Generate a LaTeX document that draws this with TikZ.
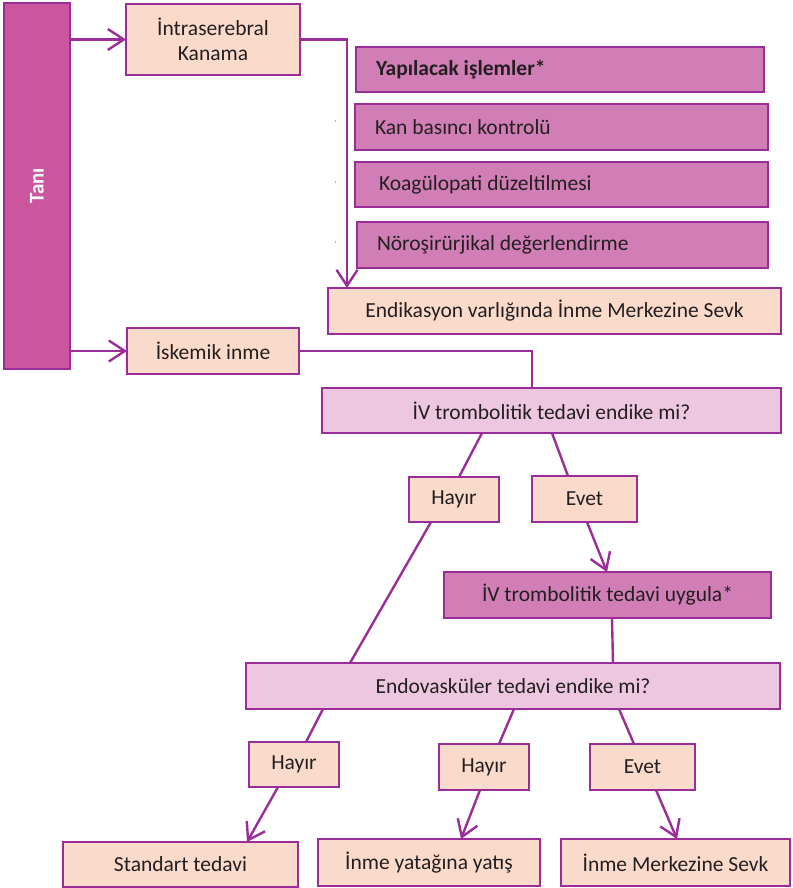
\documentclass[tikz,border=0pt]{standalone}
\usepackage{fontspec}
\setmainfont{Carlito}
\usetikzlibrary{arrows.meta,calc}
\definecolor{edgepurple}{HTML}{9B2D98}
\definecolor{taniFill}{HTML}{CC569E}
\definecolor{peachFill}{HTML}{FADACB}
\definecolor{orchidFill}{HTML}{D17DB6}
\definecolor{lightPink}{HTML}{EDC7DF}
\definecolor{inkText}{HTML}{231F20}
\newcommand{\flushtext}[2]{\makebox[#1pt][l]{#2}}
\begin{document}
\begin{tikzpicture}[x=1pt,y=-1pt,
  every node/.style={font=\fontsize{21.5}{25}\selectfont, text=inkText, outer sep=0pt, inner sep=0pt},
  flowbox/.style={draw=edgepurple, line width=2.6pt, anchor=north west, align=center},
  peach/.style={flowbox, fill=peachFill},
  orchid/.style={flowbox, fill=orchidFill},
  question/.style={flowbox, fill=lightPink},
  listbox/.style={orchid},
  link/.style={draw=edgepurple, line width=2.4pt},
  arr/.style={link, -{Straight Barb[length=16pt,width=21pt,line width=2.4pt]}}
]
\useasboundingbox (0,0) rectangle (792,888);

% diagnosis column
\node[flowbox, fill=taniFill, minimum width=66, minimum height=366] (tani) at (4,3) {};
\node[rotate=90, text=white, font=\fontsize{21}{24}\selectfont\bfseries] at (tani.center) {Tanı};

% haemorrhage branch
\node[peach, minimum width=174, minimum height=71] (intra) at (126,4) {İntraserebral\\Kanama};
\node[listbox, minimum width=408, minimum height=45] (yap) at (356,47) {\flushtext{368}{\bfseries Yapılacak işlemler*}};
\node[listbox, minimum width=413, minimum height=46] (kan) at (355,104) {\flushtext{373}{Kan basıncı kontrolü}};
\node[listbox, minimum width=413, minimum height=45] (koag) at (355,162) {\flushtext{373}{\hspace*{4pt}Koagülopati düzeltilmesi}};
\node[listbox, minimum width=411, minimum height=46] (noro) at (357,222) {\flushtext{371}{Nöroşirürjikal değerlendirme}};
\node[peach, minimum width=453, minimum height=46] (endik) at (328,288) {Endikasyon varlığında İnme Merkezine Sevk};

% small bullet remnants
\foreach \yy in {121,182,242}
  \fill[edgepurple!45] (334.5,\yy-0.8) rectangle (336,\yy+0.8);

% ischaemic branch
\node[peach, minimum width=172, minimum height=46] (isk) at (127,328) {İskemik inme};
\node[question, minimum width=459, minimum height=45] (ivq) at (322,388) {İV trombolitik tedavi endike mi?};
\node[peach, minimum width=90, minimum height=45] (h1) at (409,477) {Hayır};
\node[peach, minimum width=105, minimum height=46] (e1) at (532,476) {Evet};
\node[orchid, minimum width=327, minimum height=46] (uyg) at (444,572) {İV trombolitik tedavi uygula*};
\node[question, minimum width=534, minimum height=46] (endov) at (246,663) {Endovasküler tedavi endike mi?};
\node[peach, minimum width=90, minimum height=45] (h2) at (249,742) {Hayır};
\node[peach, minimum width=90, minimum height=46] (h3) at (439,744) {Hayır};
\node[peach, minimum width=105, minimum height=46] (e2) at (590,744) {Evet};
\node[peach, minimum width=235, minimum height=45] (std) at (63,842) {Standart tedavi};
\node[peach, minimum width=222, minimum height=47] (yat) at (318,839) {İnme yatağına yatış};
\node[peach, minimum width=229, minimum height=47] (mrk) at (561,839) {İnme Merkezine Sevk};

% connectors
\draw[arr] (tani.east |- intra.west) -- (intra.west);
\draw[arr] (tani.east |- isk.west) -- (isk.west);
\draw[arr] (intra.east) -| ($(endik.north west)+(19,0)$);
\draw[link] (isk.east) -| ($(ivq.north west)+(210,0)$);
\draw[link] ($(ivq.south west)+(160,0)$) -- ($(h1.north west)+(50,0)$);
\draw[link] ($(ivq.south west)+(230,0)$) -- ($(e1.north west)+(36,0)$);
\draw[link] ($(h1.south west)+(22,0)$) -- ($(endov.north west)+(104,0)$);
\draw[arr] ($(e1.south west)+(55,0)$) -- ($(uyg.north west)+(163,0)$);
\draw[link] ($(uyg.south west)+(168,0)$) -- ($(endov.north west)+(367,0)$);
\draw[link] ($(endov.south west)+(77,0)$) -- ($(h2.north west)+(57,0)$);
\draw[arr] ($(h2.south west)+(29,0)$) -- ($(std.north west)+(184,0)$);
\draw[link] ($(endov.south west)+(268,0)$) -- ($(h3.north west)+(60,0)$);
\draw[arr] ($(h3.south west)+(41,0)$) -- ($(yat.north west)+(143,0)$);
\draw[link] ($(endov.south west)+(373,0)$) -- ($(e2.north west)+(44,0)$);
\draw[arr] ($(e2.south west)+(66,0)$) -- ($(mrk.north west)+(116,0)$);
\end{tikzpicture}
\end{document}
